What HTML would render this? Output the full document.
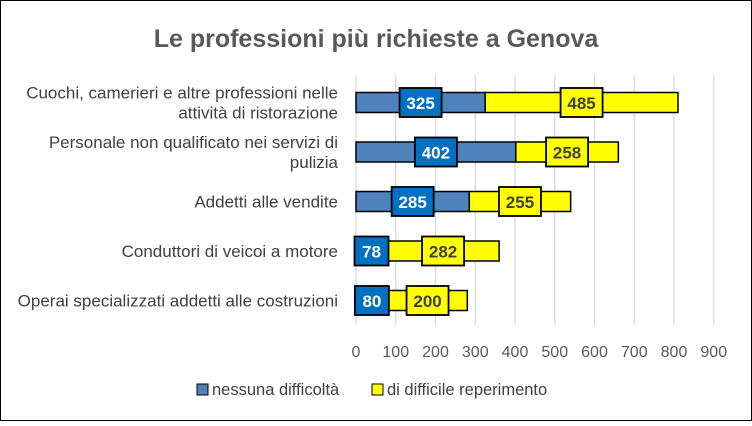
<!DOCTYPE html>
<html><head><meta charset="utf-8"><style>
body{margin:0;background:#fff;}
#wrap{width:752px;height:421px;position:relative;font-family:"Liberation Sans",sans-serif;}
</style></head><body>
<div id="wrap">
<svg id="chart" width="752" height="421" xmlns="http://www.w3.org/2000/svg">
<rect x="0.5" y="0.5" width="751" height="420" fill="#fff" stroke="#000" stroke-width="1"/>
<text x="376" y="47" text-anchor="middle" font-size="25" font-weight="bold" fill="#595959">Le professioni più richieste a Genova</text>
<g id="grid"></g><g id="bars"></g><g id="labels"></g><g id="ticks"></g>
<g>
<rect x="197" y="384" width="11" height="11" fill="#4f81bd" stroke="#000"/>
<text x="212" y="395" font-size="16.5" fill="#404040">nessuna difficoltà</text>
<rect x="372" y="384" width="11" height="11" fill="#ffff00" stroke="#000"/>
<text x="387" y="395" font-size="16.5" fill="#404040">di difficile reperimento</text>
</g>
</svg>
</div>
<script>
const categories=[["Cuochi, camerieri e altre professioni nelle","attività di ristorazione"],["Personale non qualificato nei servizi di","pulizia"],["Addetti alle vendite"],["Conduttori di veicoi a motore"],["Operai specializzati addetti alle costruzioni"]];
const nessuna=[325,402,285,78,80];
const difficile=[485,258,255,282,200];
const tickValues=[0,100,200,300,400,500,600,700,800,900];
const NS="http://www.w3.org/2000/svg";
const x0=356,pxPer=39.75/100;
function xs(v){return x0+v*pxPer;}
const rowTop=102.5,rowStep=49.5;
function ys(i){return rowTop+i*rowStep;}
function mk(tag,attrs,parent){const e=document.createElementNS(NS,tag);for(const k in attrs)e.setAttribute(k,attrs[k]);parent.appendChild(e);return e;}
const grid=document.getElementById('grid'),bars=document.getElementById('bars'),labels=document.getElementById('labels'),ticks=document.getElementById('ticks');
tickValues.forEach(t=>{
 const l=mk('line',{x1:xs(t),x2:xs(t),y1:75,y2:325,stroke:'#d9d9d9','stroke-width':1.3},grid);
 
 
 const tx=mk('text',{x:xs(t),y:357,'text-anchor':'middle','font-size':16,fill:'#595959'},ticks);
 tx.textContent=t;
 
 
});
categories.forEach((c,i)=>{
 const cy=ys(i);
 const a=nessuna[i],b=difficile[i];
 const r1=mk('rect',{x:xs(0),y:cy-10,width:xs(a)-xs(0),height:20,fill:'#4f81bd',stroke:'#000','stroke-width':1.5},bars);
 
 
 const r2=mk('rect',{x:xs(a),y:cy-10,width:xs(a+b)-xs(a),height:20,fill:'#ffff00',stroke:'#000','stroke-width':1.5},bars);
 
 
 [[a/2,a,'#0070c0','#fff','label-nessuna'],[a+b/2,b,'#ffff00','#404040','label-difficile']].forEach(d=>{
  const cx=xs(d[0]);
  const w=String(d[1]).length>2?42:34;
  const bx=mk('rect',{x:cx-w/2,y:cy-14.5,width:w,height:29,fill:d[2],stroke:'#000','stroke-width':1.8},labels);
  
  
  const t=mk('text',{x:cx,y:cy+6.5,'text-anchor':'middle','font-size':17,'font-weight':'bold',fill:d[3]},labels);
  t.textContent=d[1];
  
  
 });
 const n=c.length;
 c.forEach((line,j)=>{
  const t=mk('text',{x:338,y:cy+6+(j-(n-1)/2)*20,'text-anchor':'end','font-size':17,fill:'#404040'},ticks);
  t.textContent=line;
  
  
 });
});
</script>
</body></html>
